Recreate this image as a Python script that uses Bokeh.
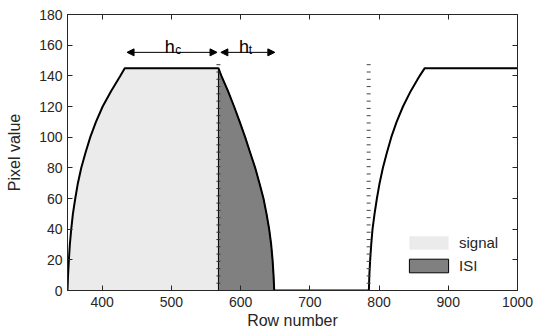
from bokeh.plotting import figure
from bokeh.models import (Arrow, NormalHead, Legend, LegendItem, LinearAxis,
                          FixedTicker, Range1d)
from bokeh.core.properties import value
from bokeh.embed import file_html
from bokeh.resources import INLINE

# ---- data ----
x_ticks = [400, 500, 600, 700, 800, 900, 1000]
y_ticks = [0, 20, 40, 60, 80, 100, 120, 140, 160, 180]

rise1_x = [350, 350.8, 352, 353.4, 355.4, 357.8, 361.2, 365, 369.9, 376.1,
           382.9, 391.1, 400.8, 412.9, 426.4, 432.7]
rise1_y = [0, 10, 20, 30, 40, 50, 60, 70, 80, 90, 100, 110, 120, 130, 140, 145]
top1_x = [432.7, 568]
top1_y = [145, 145]
fall_x = [568, 572.3, 581.9, 590.6, 598.8, 606.6, 613.8, 621.1, 627.3, 633.1,
          637.5, 641.3, 644.2, 646.2, 647.6, 648.6]
fall_y = [145, 140, 130, 120, 110, 100, 90, 80, 70, 60, 50, 40, 30, 20, 10, 0]
gap_x = [648.6, 785.3]
gap_y = [0, 0]
rise2_x = [785.3, 786, 787.2, 788.7, 790.6, 793.5, 796.9, 800.8, 805.6, 811.4,
           817.7, 825.4, 834.6, 845.7, 858.7, 866]
rise2_y = [0, 10, 20, 30, 40, 50, 60, 70, 80, 90, 100, 110, 120, 130, 140, 145]
top2_x = [866, 1000]
top2_y = [145, 145]

boundary1_x = 568
boundary2_x = 785
marker_y = [0, 4.75, 9.5, 14.25, 19, 23.75, 28.5, 33.25, 38, 42.75, 47.5,
            52.25, 57, 61.75, 66.5, 71.25, 76, 80.75, 85.5, 90.25, 95, 99.75,
            104.5, 109.25, 114, 118.75, 123.5, 128.25, 133, 137.75, 142.5,
            147.25]

hc_arrow_x = [436, 566]
ht_arrow_x = [571.5, 649.5]
arrow_y = 155.3
hc_label = {"h_x": 497.7, "sub_x": 510, "h_y": 158.5, "sub_y": 156.6, "sub": "c"}
ht_label = {"h_x": 605, "sub_x": 614.3, "h_y": 158.5, "sub_y": 156.6, "sub": "t"}

FONT = "Liberation Sans"
TXT = "#262626"

p = figure(width=543, height=331, x_range=Range1d(350, 1000),
           y_range=Range1d(0, 180), output_backend="svg",
           toolbar_location=None, min_border_left=67, min_border_right=26,
           min_border_top=14, min_border_bottom=41)
p.grid.visible = False
p.outline_line_color = TXT
p.background_fill_color = "white"

# fills
sig_x = rise1_x + top1_x[1:] + [boundary1_x]
sig_y = rise1_y + top1_y[1:] + [0]
sig = p.patch(sig_x, sig_y, fill_color="#ebebeb", line_color=None)
isi_x = fall_x + [boundary1_x]
isi_y = fall_y + [0]
isi = p.patch(isi_x, isi_y, fill_color="#808080", line_color="black",
              line_width=1)

# curve
line_x = rise1_x + top1_x + fall_x + gap_x + rise2_x + top2_x
line_y = rise1_y + top1_y + fall_y + gap_y + rise2_y + top2_y
p.line(line_x, line_y, line_color="black", line_width=2, line_join="round")

# tick-mark boundaries
p.scatter([boundary1_x] * len(marker_y), marker_y, marker="dash", size=4,
          line_color="#333333", line_width=1)
p.scatter([boundary2_x] * len(marker_y), marker_y, marker="dash", size=4,
          line_color="#444444", line_width=1)

# arrows
for xs in (hc_arrow_x, ht_arrow_x):
    p.add_layout(Arrow(x_start=xs[0], y_start=arrow_y, x_end=xs[1],
                       y_end=arrow_y, line_width=1, line_color="black",
                       start=NormalHead(size=7, fill_color="black",
                                        line_color="black"),
                       end=NormalHead(size=7, fill_color="black",
                                      line_color="black")))

for lab in (hc_label, ht_label):
    p.text(x=[lab["h_x"]], y=[lab["h_y"]], text=["h"], text_align="center",
           text_baseline="alphabetic", text_font=value(FONT),
           text_font_size="18px", text_color="black")
    p.text(x=[lab["sub_x"]], y=[lab["sub_y"]], text=[lab["sub"]],
           text_align="center", text_baseline="alphabetic",
           text_font=value(FONT), text_font_size="12px", text_color="black")

# axes
for ax in (p.xaxis[0], p.yaxis[0]):
    ax.major_tick_in = 5
    ax.major_tick_out = 0
    ax.minor_tick_line_color = None
    ax.major_label_text_font = FONT
    ax.major_label_text_font_size = "14px"
    ax.major_label_text_color = TXT
    ax.axis_label_text_font = FONT
    ax.axis_label_text_font_size = "16px"
    ax.axis_label_text_font_style = "normal"
    ax.axis_label_text_color = TXT
    ax.axis_line_color = TXT
    ax.major_tick_line_color = TXT
p.xaxis[0].ticker = FixedTicker(ticks=x_ticks)
p.yaxis[0].ticker = FixedTicker(ticks=y_ticks)
p.xaxis[0].axis_label = "Row number"
p.yaxis[0].axis_label = "Pixel value"
p.xaxis[0].major_label_standoff = 6
p.xaxis[0].axis_label_standoff = 2
p.yaxis[0].major_label_standoff = 5
p.yaxis[0].axis_label_standoff = 13

top_ax = LinearAxis(ticker=FixedTicker(ticks=x_ticks),
                    major_label_overrides={t: "" for t in x_ticks},
                    major_label_text_font_size="1px", major_label_standoff=0,
                    major_tick_in=5, major_tick_out=0,
                    minor_tick_line_color=None, axis_line_color=TXT,
                    major_tick_line_color=TXT)
right_ax = LinearAxis(ticker=FixedTicker(ticks=y_ticks),
                      major_label_overrides={t: "" for t in y_ticks},
                      major_label_text_font_size="1px", major_label_standoff=0,
                      major_tick_in=5, major_tick_out=0,
                      minor_tick_line_color=None, axis_line_color=TXT,
                      major_tick_line_color=TXT)
p.add_layout(top_ax, "above")
p.add_layout(right_ax, "right")

legend = Legend(items=[LegendItem(label="signal", renderers=[sig]),
                       LegendItem(label="ISI", renderers=[isi])],
                location=(337, 16), padding=0, margin=0, spacing=6,
                glyph_width=49, glyph_height=17, label_standoff=6,
                border_line_color=None, background_fill_alpha=0,
                label_text_font=FONT, label_text_font_size="15px",
                label_text_color=TXT)
p.add_layout(legend, "center")

open("out.html", "w").write(file_html(p, INLINE))
